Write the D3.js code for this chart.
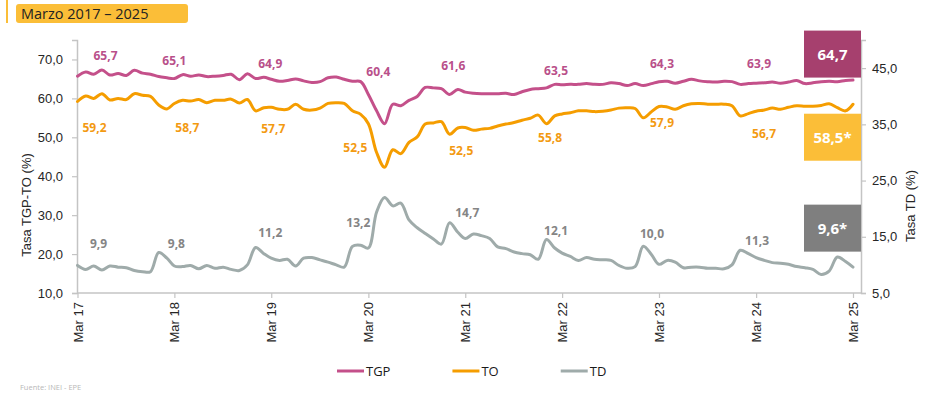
<!DOCTYPE html>
<html lang="es">
<head>
<meta charset="UTF-8">
<title>Marzo 2017 – 2025</title>
<script src="https://cdn.jsdelivr.net/npm/d3@7"></script>
<style>
    body { margin: 0; background: #fff; }
    svg { display: block; }
</style>
</head>
<body>
<div id="graphDiv"></div>
<script>
// Series data (moving monthly points, Mar 2017 .. Mar 2025)
var startMonth = new Date(2017, 2, 1)
var endMonth = new Date(2025, 2, 1)
var months = d3.timeMonth.range(startMonth, d3.timeMonth.offset(endMonth, 1))

var tgp = [
    65.7, 66.8, 66.2, 67.3, 66.0, 66.4, 65.9, 67.2, 66.5, 66.2, 65.6, 65.3,
    65.1, 66.1, 65.7, 66.0, 65.6, 65.7, 65.9, 66.2, 64.8, 66.3, 65.1, 65.4,
    64.9, 64.4, 64.6, 65.0, 64.5, 64.1, 64.3, 65.3, 65.5, 64.9, 64.4, 64.3,
    61.0, 56.8, 53.5, 58.5, 58.1, 59.5, 60.5, 62.8, 62.7, 62.5, 61.0, 62.3,
    61.6, 61.3, 61.2, 61.2, 61.2, 61.3, 61.0, 61.7, 62.3, 62.5, 62.7, 63.6,
    63.5, 63.6, 63.6, 63.8, 63.6, 63.6, 64.0, 63.8, 63.3, 63.8, 63.3, 63.8,
    64.3, 64.4, 63.9, 64.4, 64.9, 64.5, 64.3, 64.2, 64.4, 64.3, 63.6, 63.8,
    63.9, 64.0, 64.2, 63.9, 64.2, 64.6, 63.8, 64.0, 64.3, 64.4, 64.3, 64.6,
    64.7
]
var to = [
    59.2, 60.6, 60.0, 61.2, 59.6, 60.0, 59.7, 61.2, 60.8, 60.5, 58.3, 57.3,
    58.7, 59.5, 59.3, 59.7, 58.9, 59.5, 59.5, 59.8, 58.8, 59.7, 56.8, 57.6,
    57.7, 57.2, 57.2, 58.5, 57.2, 57.0, 57.5, 58.7, 58.9, 58.7, 56.8, 55.9,
    53.5, 46.1, 42.3, 46.8, 45.8, 48.7, 50.1, 53.4, 53.7, 54.0, 50.8, 52.4,
    52.5, 51.8, 52.1, 52.3, 52.9, 53.4, 53.8, 54.4, 54.9, 55.7, 53.5, 55.5,
    56.0, 56.3, 56.8, 56.8, 56.6, 56.7, 57.0, 57.5, 57.6, 57.4, 55.0, 56.6,
    57.9, 57.8, 57.2, 58.1, 58.6, 58.7, 58.5, 58.5, 58.5, 58.1, 55.5, 56.1,
    56.7, 57.0, 57.5, 57.2, 57.7, 58.1, 58.0, 58.0, 58.2, 58.6, 57.6, 56.8,
    58.5
]
var td = [
    9.9, 9.2, 9.8, 9.1, 9.8, 9.6, 9.5, 9.0, 8.8, 8.8, 12.2, 11.2,
    9.8, 9.7, 9.9, 9.3, 9.9, 9.4, 9.6, 9.2, 9.0, 10.0, 13.1, 12.0,
    11.2, 10.8, 11.0, 9.8, 11.2, 11.3, 10.9, 10.5, 10.0, 9.6, 13.3, 13.5,
    13.0, 19.4, 22.0, 20.5, 21.0, 18.0, 16.6, 15.6, 14.6, 13.7, 17.5, 15.8,
    14.7, 15.5, 15.2, 14.7, 13.2, 12.9, 12.3, 12.0, 11.8, 11.0, 14.5, 13.0,
    12.1, 11.5, 10.8, 11.3, 11.0, 10.9, 10.8, 9.9, 9.4, 9.7, 13.3, 11.8,
    10.1, 10.8, 10.5, 9.5, 9.6, 9.6, 9.4, 9.4, 9.3, 10.0, 12.6, 12.0,
    11.3, 10.8, 10.4, 10.3, 10.1, 9.7, 9.5, 9.2, 8.3, 8.9, 11.4, 10.6,
    9.6
]

// March values written on the chart
var marchTGP = ["65,7", "65,1", "64,9", "60,4", "61,6", "63,5", "64,3", "63,9"]
var marchTO = ["59,2", "58,7", "57,7", "52,5", "52,5", "55,8", "57,9", "56,7"]
var marchTD = ["9,9", "9,8", "11,2", "13,2", "14,7", "12,1", "10,0", "11,3"]
var lastLabels = ["64,7", "58,5*", "9,6*"]

var leftTicks = [10, 20, 30, 40, 50, 60, 70]
var rightTicks = [5, 15, 25, 35, 45]
var seriesNames = ["TGP", "TO", "TD"]

// label nudges in px [dx, dy] relative to the point they annotate
var tgpNudge = [[28, -16], [0, -14], [-1, -11], [10, -21], [-12, -22], [-6, -10], [3, -14], [3, -15]]
var toNudge = [[17, 31], [13, 29], [2, 26], [-13, 24], [-4, 27], [-12, 27], [3, 20], [8, 27]]
var tdNudge = [[21, -17], [2, -18], [-1, -21], [-10, -20], [2, -21], [-6, -18], [-7, -27], [1, -13]]
var boxShift = [-26, 33, -39]

var colTGP = "#c4508a", colTO = "#f59d00", colTD = "#9fabaa"
var colors = [colTGP, colTO, colTD]
var labelColors = ["#b9508a", "#f39a12", "#858585"]
var boxColors = ["#a6406e", "#fbbe38", "#7f7f7f"]

var width = 927, height = 393
var svg = d3.select('#graphDiv').append('svg')
    .attr('width', width).attr('height', height)

var locale = d3.formatLocale({ decimal: ",", thousands: ".", grouping: [3], currency: ["", ""] })
var fmt1 = locale.format(".1f")
var monthFmt = d3.timeFormat("%y")

var x = d3.scaleTime().domain([startMonth, endMonth]).range([77.5, 853])
var yL = d3.scaleLinear().domain([10, 75]).range([293, 40])
var yR = d3.scaleLinear().domain([5, 50]).range([293, 40])
var plotLeft = 77, plotRight = 861

// title box
svg.append('line').attr('x1', 7).attr('x2', 7).attr('y1', 0).attr('y2', 23)
    .attr('stroke', '#fbbe38').attr('stroke-width', 2)
svg.append('rect').attr('x', 16).attr('y', 4).attr('width', 172).attr('height', 19)
    .attr('rx', 3).attr('fill', '#fbbe38')
svg.append('text').attr('x', 21).attr('y', 18.5)
    .attr('font-family', 'Open Sans').attr('font-size', 14.5).attr('fill', '#222')
    .text('Marzo 2017 – 2025')

// axes
var axisColor = '#c4c4c4'
var leftAxis = svg.append('g').attr('transform', `translate(${plotLeft},0)`)
    .call(d3.axisLeft(yL).tickValues(leftTicks).tickFormat(fmt1).tickSize(5).tickPadding(9))
var rightAxis = svg.append('g').attr('transform', `translate(${plotRight},0)`)
    .call(d3.axisRight(yR).tickValues(rightTicks).tickFormat(fmt1).tickSize(5).tickPadding(6))
var marchDates = d3.range(2017, 2026).map(yr => new Date(yr, 2, 1))
var bottomAxis = svg.append('g').attr('transform', 'translate(0,293)')
    .call(d3.axisBottom(x).tickValues(marchDates).tickFormat(d => 'Mar ' + monthFmt(d)).tickSize(5).tickPadding(4))
bottomAxis.select('.domain').attr('d', `M${plotLeft},0H${plotRight}`)
bottomAxis.selectAll('text')
    .attr('transform', 'rotate(-90)')
    .attr('text-anchor', 'end')
    .attr('x', -9).attr('y', 0).attr('dy', '0.35em')

;[leftAxis, rightAxis, bottomAxis].forEach(g => {
    g.select('.domain').attr('stroke', axisColor).attr('stroke-width', 1.5)
    g.selectAll('.tick line').attr('stroke', axisColor).attr('stroke-width', 1.2)
    g.selectAll('text').attr('font-family', 'Liberation Sans').attr('font-size', 13).attr('fill', '#262626')
})

// axis titles
svg.append('text').attr('transform', 'translate(31,205) rotate(-90)')
    .attr('text-anchor', 'middle').attr('font-family', 'Liberation Sans').attr('font-size', 13)
    .attr('fill', '#262626').text('Tasa TGP-TO (%)')
svg.append('text').attr('transform', 'translate(915,206) rotate(-90)')
    .attr('text-anchor', 'middle').attr('font-family', 'Liberation Sans').attr('font-size', 13)
    .attr('fill', '#262626').text('Tasa TD (%)')

// lines
var series = [
    { values: tgp, y: yL },
    { values: to, y: yL },
    { values: td, y: yR }
]
series.forEach((s, k) => {
    var line = d3.line()
        .x((d, i) => x(months[i]))
        .y(d => s.y(d))
        .curve(d3.curveCatmullRom.alpha(0.5))
    svg.append('path').datum(s.values)
        .attr('d', line)
        .attr('fill', 'none')
        .attr('stroke', colors[k])
        .attr('stroke-width', 3)
        .attr('stroke-linejoin', 'round')
        .attr('stroke-linecap', 'round')
})

// March value labels
var labelSets = [
    { texts: marchTGP, nudge: tgpNudge, y: yL },
    { texts: marchTO, nudge: toNudge, y: yL },
    { texts: marchTD, nudge: tdNudge, y: yR }
]
labelSets.forEach((set, k) => {
    svg.append('g').selectAll('text').data(set.texts).enter().append('text')
        .attr('x', (d, i) => x(marchDates[i]) + set.nudge[i][0])
        .attr('y', (d, i) => set.y(+d.replace(',', '.')) + set.nudge[i][1])
        .attr('text-anchor', 'middle')
        .attr('font-family', 'Open Sans').attr('font-weight', 700).attr('font-size', 12)
        .attr('fill', labelColors[k])
        .text(d => d)
})

// last value boxes
var lastVals = series.map(s => s.values[s.values.length - 1])
lastVals.forEach((v, k) => {
    var cy = series[k].y(v) + boxShift[k]
    svg.append('rect')
        .attr('x', plotRight - 57).attr('y', cy - 23.5)
        .attr('width', 57).attr('height', 47)
        .attr('fill', boxColors[k])
    svg.append('text')
        .attr('x', plotRight - 28.5).attr('y', cy + 5.5)
        .attr('text-anchor', 'middle')
        .attr('font-family', 'Open Sans').attr('font-weight', 700).attr('font-size', 15)
        .attr('fill', '#fff')
        .text(lastLabels[k])
})

// legend
var legend = svg.append('g').attr('transform', 'translate(337,371)')
var lx = 0
seriesNames.forEach((name, k) => {
    legend.append('line').attr('x1', lx).attr('x2', lx + 27).attr('y1', 0).attr('y2', 0)
        .attr('stroke', colors[k]).attr('stroke-width', 3)
    var t = legend.append('text').attr('x', lx + 29).attr('y', 4.5)
        .attr('font-family', 'Open Sans').attr('font-size', 13).attr('fill', '#1a1a1a')
        .text(name)
    lx += 29 + t.node().getComputedTextLength() + 62
})

// source note
svg.append('text').attr('x', 20).attr('y', 390)
    .attr('font-family', 'Open Sans').attr('font-size', 7.5).attr('fill', '#b8b8b8')
    .text('Fuente: INEI - EPE')
</script>
</body>
</html>
